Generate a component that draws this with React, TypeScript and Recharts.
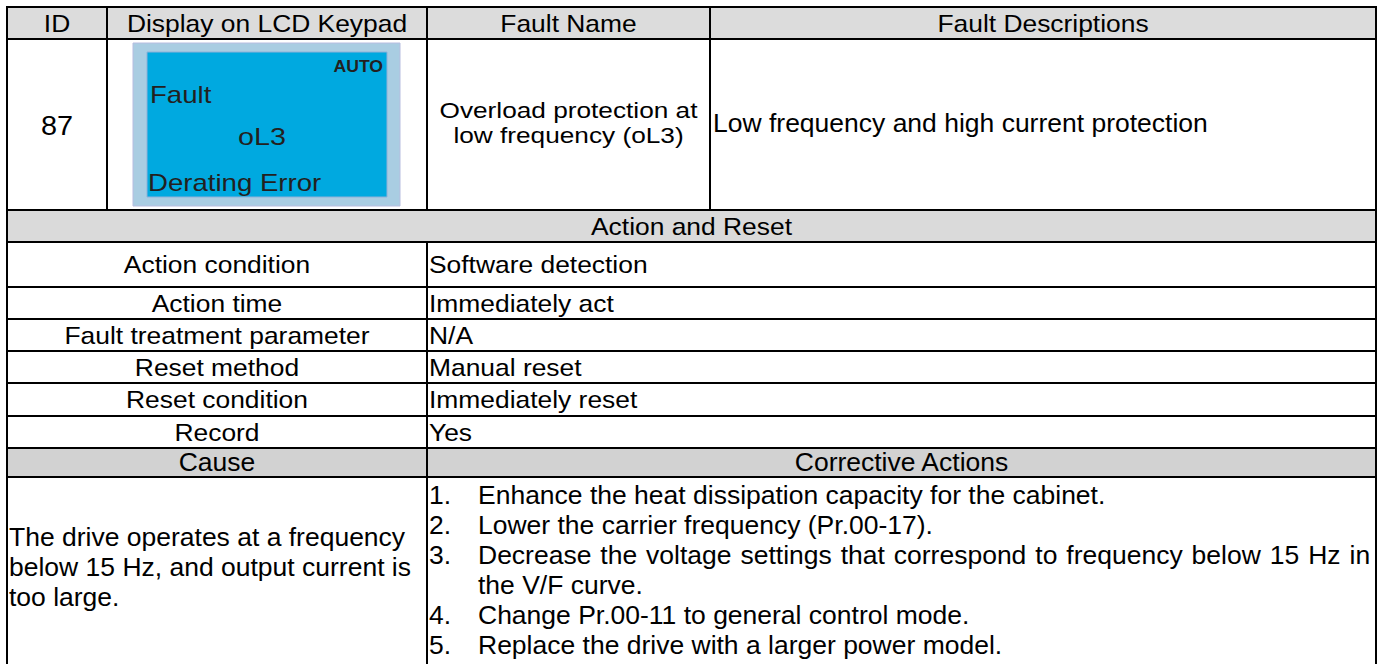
import React from 'react';
import { Surface, Layer, Rectangle, Text } from 'recharts';

// ---------- data ----------
const headerLabels = ['ID', 'Display on LCD Keypad', 'Fault Name', 'Fault Descriptions'];
const faultId = '87';
const lcdMode = 'AUTO';
const lcdTitle = 'Fault';
const lcdCode = 'oL3';
const lcdMessage = 'Derating Error';
const faultNameLines = ['Overload protection at', 'low frequency (oL3)'];
const faultDescription = 'Low frequency and high current protection';
const sectionTitle = 'Action and Reset';
const actionLabels = ['Action condition', 'Action time', 'Fault treatment parameter', 'Reset method', 'Reset condition', 'Record'];
const actionValues = ['Software detection', 'Immediately act', 'N/A', 'Manual reset', 'Immediately reset', 'Yes'];
const causeHeaders = ['Cause', 'Corrective Actions'];
const causeLines = ['The drive operates at a frequency', 'below 15 Hz, and output current is', 'too large.'];
const correctiveNumbers = ['1.', '2.', '3.', '', '4.', '5.'];
const correctiveLines = [
  'Enhance the heat dissipation capacity for the cabinet.',
  'Lower the carrier frequency (Pr.00-17).',
  'Decrease the voltage settings that correspond to frequency below 15 Hz in',
  'the V/F curve.',
  'Change Pr.00-11 to general control mode.',
  'Replace the drive with a larger power model.',
];
const justifiedLine = 2;

// ---------- layout ----------
const W = 1389;
const H = 664;
const L = 7;
const R = 1376;
const colID = 107;
const colMid = 427;
const colDesc = 710;
const yTop = 7;
const yHead = 39;
const yRow1 = 210;
const yBand = 242;
const actionRowBottoms = [287, 319, 351, 383, 416, 448];
const yCauseHead = 477;
const FONT = "'Liberation Sans', Arial, Helvetica, sans-serif";

type TProps = {
  x: number; y: number; s: string; anchor?: 'start' | 'middle' | 'end';
  fs?: number; sx?: number; bold?: boolean; fill?: string; ws?: number;
};

const T = ({ x, y, s, anchor = 'start', fs = 24, sx = 1.1, bold = false, fill = '#000', ws = 0 }: TProps) => (
  <g transform={`translate(${x} ${y}) scale(${sx} 1)`}>
    <Text
      x={0}
      y={0}
      textAnchor={anchor}
      verticalAnchor="end"
      fontSize={fs}
      fontFamily={FONT}
      fontWeight={bold ? 700 : 400}
      fill={fill}
      wordSpacing={ws}
    >
      {s}
    </Text>
  </g>
);

const HLine = ({ y, x1 = L - 1, x2 = R + 1 }: { y: number; x1?: number; x2?: number }) => (
  <Rectangle x={x1} y={y - 1} width={x2 - x1} height={2} fill="#000" />
);
const VLine = ({ x, y1, y2 }: { x: number; y1: number; y2: number }) => (
  <Rectangle x={x - 1} y={y1 - 1} width={2} height={y2 - y1 + 2} fill="#000" />
);

export default function App() {
  const actionTops = [yBand, ...actionRowBottoms.slice(0, -1)];
  const yCauseTop = actionRowBottoms[actionRowBottoms.length - 1];
  const headCenters = [(L + colID) / 2, (colID + colMid) / 2, (colMid + colDesc) / 2, (colDesc + R) / 2];
  return (
    <div style={{ position: 'absolute', left: 0, top: 0, width: W, height: H, background: '#fff' }}>
      <Surface width={W} height={H} viewBox={{ x: 0, y: 0, width: W, height: H }}>
        {/* background fills */}
        <Layer>
          <Rectangle x={0} y={0} width={W} height={H} fill="#ffffff" />
          <Rectangle x={L} y={yTop} width={R - L} height={yHead - yTop} fill="#dcdcdc" />
          <Rectangle x={L} y={yRow1} width={R - L} height={yBand - yRow1} fill="#dadada" />
          <Rectangle x={L} y={yCauseTop} width={R - L} height={yCauseHead - yCauseTop} fill="#d2d2d2" />
        </Layer>

        {/* LCD keypad picture */}
        <Layer>
          <Rectangle x={133} y={43} width={267} height={163} fill="#a9cde2" stroke="#b7bde0" strokeWidth={1} />
          <Rectangle x={147} y={52} width={240} height={145} fill="#00a9e0" stroke="#8fb0d8" strokeWidth={1} />
          <T x={383} y={72} s={lcdMode} anchor="end" fs={16} sx={1.1} bold fill="#231f20" />
          <T x={150} y={103} s={lcdTitle} fs={23} sx={1.2} fill="#231f20" />
          <T x={238} y={145} s={lcdCode} fs={23} sx={1.25} fill="#231f20" />
          <T x={148} y={191} s={lcdMessage} fs={23} sx={1.2} fill="#231f20" />
        </Layer>

        {/* grid lines */}
        <Layer>
          {[yTop, yHead, yRow1, yBand, ...actionRowBottoms, yCauseHead].map((y) => (
            <HLine key={y} y={y} />
          ))}
          <VLine x={L} y1={yTop} y2={H + 2} />
          <VLine x={R} y1={yTop} y2={H + 2} />
          <VLine x={colID} y1={yTop} y2={yRow1} />
          <VLine x={colDesc} y1={yTop} y2={yRow1} />
          <VLine x={colMid} y1={yTop} y2={yRow1} />
          <VLine x={colMid} y1={yBand} y2={H + 2} />
        </Layer>

        {/* header texts */}
        <Layer>
          {headerLabels.map((h, i) => (
            <T key={h} x={headCenters[i]} y={32} s={h} anchor="middle" fs={24} sx={1.1} />
          ))}
        </Layer>

        {/* row 1 */}
        <Layer>
          <T x={(L + colID) / 2} y={135} s={faultId} anchor="middle" fs={28} sx={1.03} />
          {faultNameLines.map((s, i) => (
            <T key={s} x={(colMid + colDesc) / 2} y={118 + i * 25} s={s} anchor="middle" fs={21.5} sx={1.22} />
          ))}
          <T x={713} y={132} s={faultDescription} fs={25} sx={1.06} />
        </Layer>

        {/* Action and Reset */}
        <Layer>
          <T x={(L + R) / 2} y={235} s={sectionTitle} anchor="middle" fs={24} sx={1.1} />
          {actionLabels.map((s, i) => {
            const c = (actionTops[i] + actionRowBottoms[i]) / 2;
            return <T key={s} x={(L + colMid) / 2} y={c + 8.5} s={s} anchor="middle" fs={24} sx={1.1} />;
          })}
          {actionValues.map((s, i) => {
            const c = (actionTops[i] + actionRowBottoms[i]) / 2;
            return <T key={s} x={429} y={c + 8.5} s={s} fs={24} sx={1.1} />;
          })}
        </Layer>

        {/* Cause / Corrective */}
        <Layer>
          <T x={(L + colMid) / 2} y={471} s={causeHeaders[0]} anchor="middle" fs={25} sx={1.06} />
          <T x={(colMid + R) / 2} y={471} s={causeHeaders[1]} anchor="middle" fs={25} sx={1.06} />
          {causeLines.map((s, i) => (
            <T key={s} x={9} y={546 + i * 30} s={s} fs={25} sx={1.06} />
          ))}
          {correctiveLines.map((s, i) => (
            <React.Fragment key={s}>
              {correctiveNumbers[i] ? <T x={429} y={504 + i * 30} s={correctiveNumbers[i]} fs={25} sx={1.06} /> : null}
              <T x={478} y={504 + i * 30} s={s} fs={25} sx={1.06} ws={i === justifiedLine ? 1.5 : 0} />
            </React.Fragment>
          ))}
        </Layer>
      </Surface>
    </div>
  );
}
